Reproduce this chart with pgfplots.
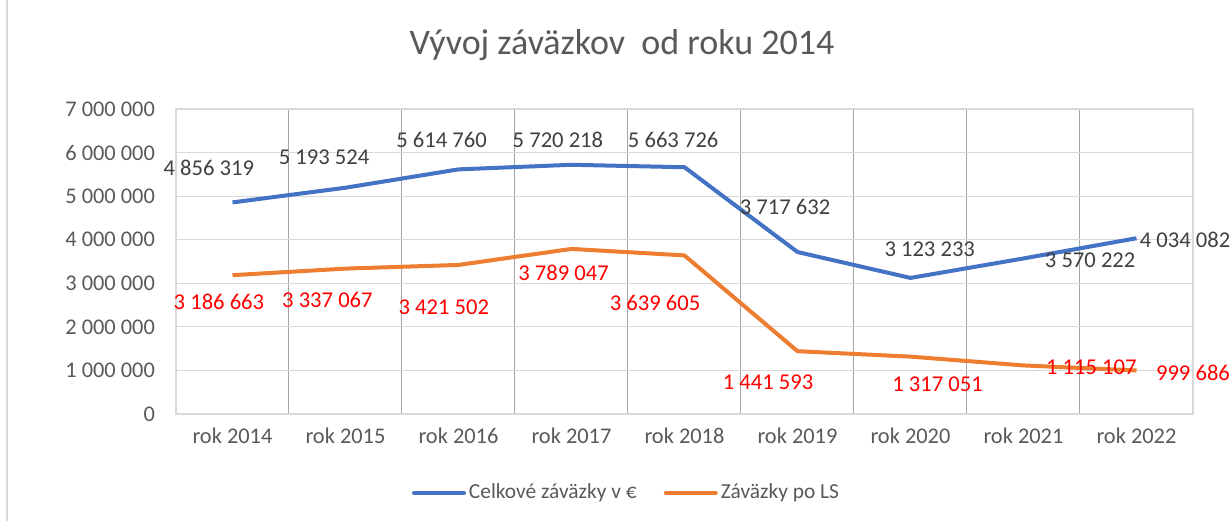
\documentclass[border=0pt]{standalone}
\usepackage{fontspec}
\setmainfont{Carlito}
\usepackage{pgfplots}
\pgfplotsset{compat=1.18}
\definecolor{cblue}{HTML}{4472C4}
\definecolor{corange}{HTML}{ED7D31}
\definecolor{ctext}{HTML}{595959}
\definecolor{clab}{HTML}{404040}
\definecolor{cgrid}{HTML}{D9D9D9}
\definecolor{cvgrid}{HTML}{A6A6A6}
\begin{document}
\begin{tikzpicture}
\path[use as bounding box] (-88pt,-53.5pt) rectangle (527.5pt,207pt);
\draw[cgrid, line width=0.8pt] (-84.5pt,-53.5pt) -- (-84.5pt,207pt);
\begin{axis}[
 at={(0,0)}, anchor=south west,
 scale only axis, width=508.5pt, height=152.5pt,
 xmin=-0.5, xmax=8.5, ymin=0, ymax=7000000,
 xtick={0,...,8},
 xticklabels={rok 2014,rok 2015,rok 2016,rok 2017,rok 2018,rok 2019,rok 2020,rok 2021,rok 2022},
 minor xtick={-0.5,0.5,...,8.5},
 ytick={0,1000000,2000000,3000000,4000000,5000000,6000000,7000000},
 yticklabels={0,1 000 000,2 000 000,3 000 000,4 000 000,5 000 000,6 000 000,7 000 000},
 scaled y ticks=false,
 major tick length=0pt, minor tick length=0pt,
 ymajorgrids, xminorgrids,
 major grid style={cgrid, line width=0.6pt},
 minor grid style={cvgrid, line width=0.5pt},
 axis line style={cgrid, line width=0.6pt},
 tick label style={font=\fontsize{11.2}{13}\selectfont, text=ctext},
 xticklabel style={yshift=-3.5pt},
 yticklabel style={xshift=-7pt},
 clip=false,
 legend columns=2,
 legend style={at={(0.4435,-0.259)}, anchor=center, draw=none, fill=none,
   font=\fontsize{10.7}{12}\selectfont, text=ctext,
   /tikz/every even column/.append style={column sep=12pt},
   nodes={inner sep=1.5pt}},
 legend image code/.code={\draw[#1, line cap=round] (0pt,0pt) -- (25pt,0pt);},
]
\addplot[cblue, line width=2pt, line join=round] coordinates {
 (0,4856319) (1,5193524) (2,5614760) (3,5720218) (4,5663726)
 (5,3717632) (6,3123233) (7,3570222) (8,4034082)};
\addlegendentry{Celkové záväzky v €}
\addplot[corange, line width=2pt, line join=round] coordinates {
 (0,3186663) (1,3337067) (2,3421502) (3,3789047) (4,3639605)
 (5,1441593) (6,1317051) (7,1115107) (8,999686)};
\addlegendentry{Záväzky po LS}
\begin{scope}[every node/.style={font=\fontsize{11.3}{13}\selectfont, text=clab}]
\node at (axis cs:-0.21,5650000) {4 856 319};
\node at (axis cs:0.81,5900000) {5 193 524};
\node at (axis cs:1.85,6290000) {5 614 760};
\node at (axis cs:2.88,6290000) {5 720 218};
\node at (axis cs:3.90,6290000) {5 663 726};
\node at (axis cs:4.89,4750000) {3 717 632};
\node at (axis cs:6.17,3790000) {3 123 233};
\node at (axis cs:7.59,3530000) {3 570 222};
\node at (axis cs:8.43,3990000) {4 034 082};
\end{scope}
\begin{scope}[every node/.style={font=\fontsize{11.3}{13}\selectfont, text=red}]
\node at (axis cs:-0.12,2570000) {3 186 663};
\node at (axis cs:0.84,2620000) {3 337 067};
\node at (axis cs:1.87,2460000) {3 421 502};
\node at (axis cs:2.93,3240000) {3 789 047};
\node at (axis cs:3.74,2550000) {3 639 605};
\node at (axis cs:4.74,730000) {1 441 593};
\node at (axis cs:6.24,690000) {1 317 051};
\node at (axis cs:7.60,1080000) {1 115 107};
\node at (axis cs:8.50,940000) {999 686};
\end{scope}
\node[font=\fontsize{18}{21}\selectfont, text=ctext] at (axis description cs:0.4385,1.21) {Vývoj záväzkov\ \ od roku 2014};
\end{axis}
\end{tikzpicture}
\end{document}
